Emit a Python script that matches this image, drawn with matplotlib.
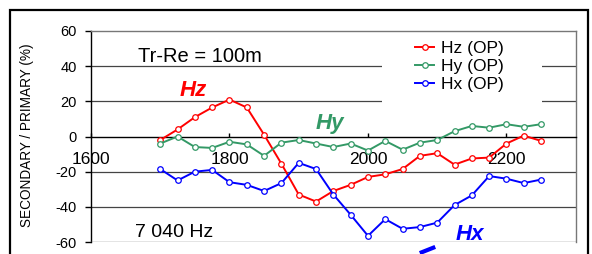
import matplotlib
matplotlib.use("Agg")
import matplotlib.pyplot as plt
from matplotlib.patches import Rectangle
from matplotlib.lines import Line2D

plt.rcParams['font.family'] = ['Liberation Sans', 'DejaVu Sans']

# station positions (m)
x = [1700, 1725, 1750, 1775, 1800, 1825, 1850, 1875, 1900, 1925, 1950, 1975,
     2000, 2025, 2050, 2075, 2100, 2125, 2150, 2175, 2200, 2225, 2250]

# secondary / primary (%)
hz = [-2, 4, 11, 16.5, 21, 16.5, 1, -15.5, -33, -37, -31, -27.5,
      -23, -21.5, -18.5, -11, -9.5, -16, -12.5, -12, -4, 0.5, -2.5]
hy = [-4, 0, -6, -6.5, -3, -4.5, -11, -3.5, -2, -4, -6, -4,
      -8, -2.5, -7.5, -3.5, -2, 3, 6, 5, 7, 5.5, 7]
hx = [-18.5, -25, -20, -19, -26, -27.5, -31, -26.5, -15, -18.5, -33, -44.5,
      -56.5, -47, -52.5, -51.5, -49, -39, -33.5, -22.5, -24, -26.5, -24.5]

xticks = [1600, 1800, 2000, 2200]
yticks = [60, 40, 20, 0, -20, -40, -60]

red = '#ff0000'
green = '#339966'
blue = '#0000ff'

fig = plt.figure(figsize=(5.92, 2.54), dpi=100)
ax = fig.add_axes([91/592, 1 - 242/254, 484.7/592, 211/254])

# outer frame
fig.add_artist(Rectangle((10/592, -0.1), 577.7/592, 1.1 - 10/254,
                         transform=fig.transFigure, fill=False,
                         edgecolor='black', lw=1.6))

ax.set_xlim(1600, 2300)
ax.set_ylim(-60, 60)

# grid lines
for v in [40, 20, -20, -40]:
    ax.axhline(v, color='#444444', lw=0.9, zorder=1)

# white area behind legend
ax.add_patch(Rectangle((0.600, 0.56), 0.33, 0.42, transform=ax.transAxes,
                       facecolor='white', edgecolor='none', zorder=2))

for s in ['top', 'right']:
    ax.spines[s].set_color('#777777')
    ax.spines[s].set_linewidth(1.0)
ax.spines['left'].set_color('black')
ax.spines['left'].set_linewidth(1.0)
ax.spines['bottom'].set_position(('data', 0))
ax.spines['bottom'].set_color('black')
ax.spines['bottom'].set_linewidth(1.0)
ax.axhline(-60, color='#777777', lw=1.0, zorder=3)

ax.set_xticks(xticks)
ax.set_xticklabels([str(t) for t in xticks], fontsize=12.5)
ax.tick_params(axis='x', direction='in', length=3, pad=11, width=1)
ax.set_yticks(yticks)
ax.set_yticklabels([str(t) for t in yticks], fontsize=10.5)
ax.tick_params(axis='y', direction='out', length=4.3, pad=6, width=1)

ax.set_ylabel('SECONDARY / PRIMARY (%)', fontsize=9.8)
ax.yaxis.set_label_coords(-0.118, 0.507)

mk = dict(marker='o', markersize=4, markerfacecolor='white', markeredgewidth=0.9, lw=1.4, zorder=4)
l1, = ax.plot(x, hz, color=red, markeredgecolor=red, label='Hz (OP)', **mk)
l2, = ax.plot(x, hy, color=green, markeredgecolor=green, label='Hy (OP)', **mk)
l3, = ax.plot(x, hx, color=blue, markeredgecolor=blue, label='Hx (OP)', **mk)

leg = ax.legend(handles=[l1, l2, l3], loc='upper left', bbox_to_anchor=(403/592, 1 - 29/254),
                bbox_transform=fig.transFigure, frameon=False, fontsize=12.5,
                handlelength=1.1, handletextpad=0.4, labelspacing=0.15, borderpad=0.2)

ax.text(1668, 42.2, 'Tr-Re = 100m', fontsize=14.5, va='baseline', ha='left')
ax.text(1663, -57.2, '7 040 Hz', fontsize=14, va='baseline', ha='left')
ax.text(1728, 23.2, 'Hz', color=red, fontsize=16, fontweight='bold', fontstyle='italic', va='baseline')
ax.text(1924, 4.5, 'Hy', color=green, fontsize=16, fontweight='bold', fontstyle='italic', va='baseline')
ax.text(2127, -58.7, 'Hx', color=blue, fontsize=16, fontweight='bold', fontstyle='italic', va='baseline')

# clipped blue pointer at the bottom edge
fig.add_artist(Line2D([421.7/592, 433.3/592], [1 - 252.3/254, 1 - 247.7/254],
                      transform=fig.transFigure, color=blue, lw=3))

fig.savefig('out.png', dpi=100)
